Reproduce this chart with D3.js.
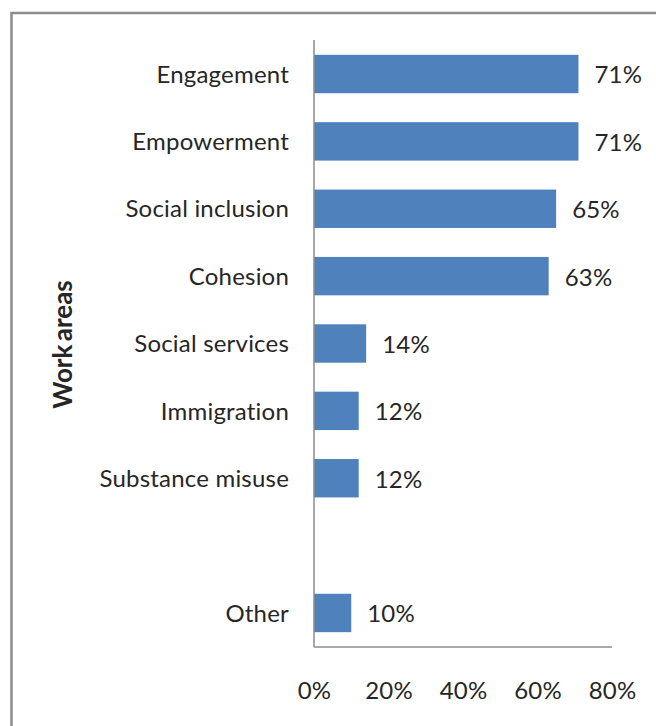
<!DOCTYPE html>
<html>
<head>
<meta charset="utf-8">
<script src="https://cdn.jsdelivr.net/npm/d3@7/dist/d3.min.js"></script>
<style>
  html, body { margin: 0; padding: 0; background: #fff; }
  svg { display: block; }
  text { font-family: Lato, "Noto Sans", sans-serif; fill: #262626; }
</style>
</head>
<body>
<svg id="chart" width="656" height="726"></svg>
<script>
// Work areas and the share of respondents active in each (percent).
// The blank entry keeps an empty row before "Other".
const categories = ["Engagement", "Empowerment", "Social inclusion", "Cohesion",
  "Social services", "Immigration", "Substance misuse", " ", "Other"];
const shares = [71, 71, 65, 63, 14, 12, 12, null, 10];
const xTicks = [0, 20, 40, 60, 80];
const axisTitle = "Work areas";

const rows = categories.map((c, i) => ({ name: c, value: shares[i] }));

const svg = d3.select("#chart");
const W = 656, H = 726;
const plot = { left: 314, right: 612, top: 40, bottom: 647 };
const fontSize = 24;
const textStyle = sel => sel
  .attr("font-size", fontSize).attr("fill", "#262626")
  .style("font-family", "Lato, 'Noto Sans', sans-serif")
  .style("letter-spacing", "0.2px");

svg.append("rect").attr("width", W).attr("height", H).attr("fill", "#fff");

// chart frame
svg.append("rect")
  .attr("x", 11.5).attr("y", 13)
  .attr("width", W + 20).attr("height", H + 20)
  .attr("fill", "none").attr("stroke", "#8c8c8c").attr("stroke-width", 2.5);

const x = d3.scaleLinear().domain([0, 80]).range([plot.left, plot.right]);
const y = d3.scaleBand().domain(categories)
  .range([plot.top, plot.bottom])
  .paddingInner(0.43).paddingOuter(0.22);

// bars
svg.append("g").selectAll("rect")
  .data(rows.filter(d => d.value !== null))
  .join("rect")
  .attr("x", x(0))
  .attr("y", d => y(d.name))
  .attr("width", d => x(d.value) - x(0))
  .attr("height", y.bandwidth())
  .attr("fill", "#4f81bd");

// value labels
svg.append("g").selectAll("text")
  .data(rows.filter(d => d.value !== null))
  .join("text")
  .attr("x", d => x(d.value) + 16)
  .attr("y", d => y(d.name) + y.bandwidth() / 2 + 1)
  .attr("dy", "0.35em")
  .call(textStyle)
  .text(d => d.value + "%");

// category axis
const yAxis = svg.append("g")
  .attr("transform", `translate(${plot.left},1)`)
  .call(d3.axisLeft(y).tickSize(0).tickPadding(25));
yAxis.select(".domain").attr("stroke", "#8c8c8c").attr("stroke-width", 1.5)
  .attr("d", `M0,${plot.top - 1}V${plot.bottom - 1}`);
yAxis.selectAll(".tick text").call(textStyle);

// value axis
const xAxis = svg.append("g")
  .attr("transform", `translate(0,${plot.bottom})`)
  .call(d3.axisBottom(x).tickValues(xTicks).tickSize(0).tickPadding(35)
    .tickFormat(d => d + "%"));
xAxis.select(".domain").attr("stroke", "#8c8c8c").attr("stroke-width", 1.5)
  .attr("d", `M${plot.left},0H${plot.right}`);
xAxis.selectAll(".tick text").call(textStyle);

// axis title
svg.append("text")
  .attr("transform", "translate(63,344.5) rotate(-90)")
  .attr("text-anchor", "middle")
  .attr("dy", "0.35em")
  .attr("font-size", 26)
  .attr("font-weight", "bold")
  .style("word-spacing", "-3px")
  .attr("fill", "#111")
  .text(axisTitle);
</script>
</body>
</html>
